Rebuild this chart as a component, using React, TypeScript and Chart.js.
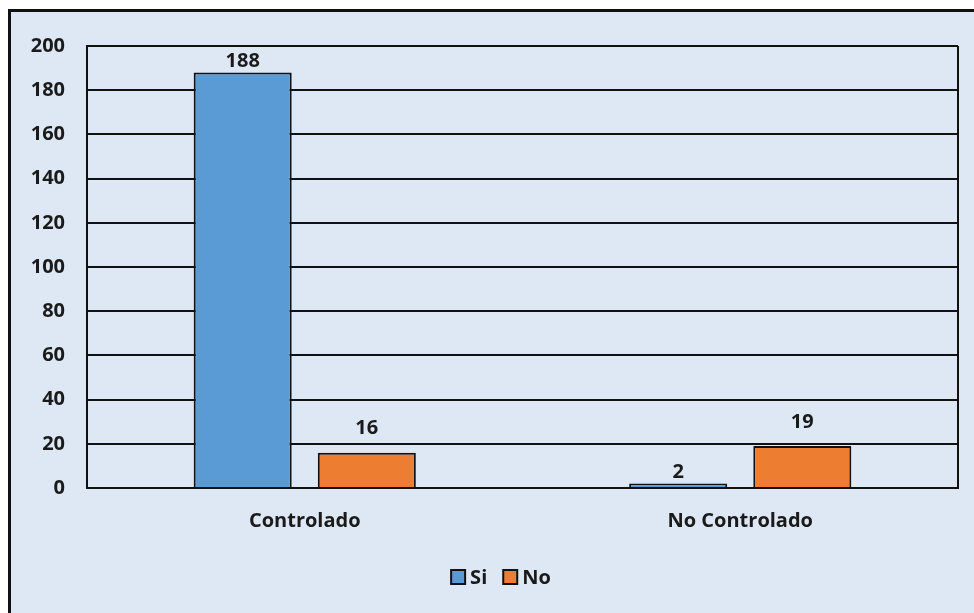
import React, { useEffect, useRef } from "react";
import { Chart, registerables } from "chart.js";

Chart.register(...registerables);

const categories = ["Controlado", "No Controlado"];
const seriesNames = ["Si", "No"];
const siValues = [188, 2];
const noValues = [16, 19];
const yTicks = [0, 20, 40, 60, 80, 100, 120, 140, 160, 180, 200];

const FONT = "'Open Sans', 'Noto Sans', sans-serif";
const SIZE = 20;
const TEXT = "#1a1a1a";
const LINE = "#111";

// Writes each bar's value just above it (the "No" labels sit a little higher)
const valueLabels = {
  id: "valueLabels",
  afterDatasetsDraw(chart: any) {
    const ctx = chart.ctx;
    ctx.save();
    ctx.font = `bold ${SIZE}px ${FONT}`;
    ctx.fillStyle = TEXT;
    ctx.textAlign = "center";
    ctx.textBaseline = "bottom";
    const lift = [1, 14];
    chart.data.datasets.forEach((ds: any, i: number) => {
      const meta = chart.getDatasetMeta(i);
      meta.data.forEach((bar: any, j: number) => {
        ctx.fillText(String(ds.data[j]), bar.x, bar.y - lift[i]);
      });
    });
    ctx.restore();
  },
};

// Closes the plot frame on the right-hand side
const rightEdge = {
  id: "rightEdge",
  beforeDatasetsDraw(chart: any) {
    const { ctx, chartArea } = chart;
    ctx.save();
    ctx.strokeStyle = LINE;
    ctx.lineWidth = 2;
    ctx.beginPath();
    ctx.moveTo(chartArea.right, chartArea.top);
    ctx.lineTo(chartArea.right, chartArea.bottom);
    ctx.stroke();
    ctx.restore();
  },
};

// Compact legend centred under the plot: boxed swatch, small gap, bold name
const bottomLegend = {
  id: "bottomLegend",
  afterDraw(chart: any) {
    const ctx = chart.ctx;
    ctx.save();
    ctx.font = `bold ${SIZE}px ${FONT}`;
    ctx.textBaseline = "middle";
    ctx.textAlign = "left";
    const box = 14;
    const gap = 5;
    const itemGap = 16;
    const items = chart.data.datasets.map((ds: any) => ({
      label: ds.label,
      color: ds.backgroundColor,
      w: box + gap + ctx.measureText(ds.label).width,
    }));
    const total = items.reduce((s: number, it: any) => s + it.w, 0) + itemGap * (items.length - 1);
    let x = chart.width / 2 - total / 2;
    const cy = chart.height - 36;
    items.forEach((it: any) => {
      ctx.fillStyle = it.color;
      ctx.fillRect(x, cy - box / 2, box, box);
      ctx.strokeStyle = LINE;
      ctx.lineWidth = 2;
      ctx.strokeRect(x, cy - box / 2, box, box);
      ctx.fillStyle = TEXT;
      ctx.fillText(it.label, x + box + gap, cy + 1);
      x += it.w + itemGap;
    });
    ctx.restore();
  },
};

export default function App() {
  const ref = useRef<HTMLCanvasElement>(null);

  useEffect(() => {
    if (!ref.current) return;
    const chart = new Chart(ref.current, {
      type: "bar",
      data: {
        labels: categories,
        datasets: [
          {
            label: seriesNames[0],
            data: siValues,
            backgroundColor: "#5B9BD5",
            borderColor: LINE,
            borderWidth: 2,
            borderSkipped: "bottom",
            categoryPercentage: 0.57,
            barPercentage: 0.79,
          },
          {
            label: seriesNames[1],
            data: noValues,
            backgroundColor: "#ED7D31",
            borderColor: LINE,
            borderWidth: 2,
            borderSkipped: "bottom",
            categoryPercentage: 0.57,
            barPercentage: 0.79,
          },
        ],
      },
      options: {
        animation: false,
        responsive: false,
        maintainAspectRatio: false,
        layout: { padding: { top: 30, right: 33, left: 0, bottom: 58 } },
        plugins: {
          tooltip: { enabled: false },
          legend: { display: false },
        },
        scales: {
          x: {
            grid: { display: false, drawTicks: false },
            border: { display: true, color: LINE, width: 2 },
            ticks: {
              padding: 21,
              color: TEXT,
              font: { family: FONT, size: SIZE, weight: "bold" },
            },
            afterFit(scale: any) {
              scale.height = 67;
            },
          },
          y: {
            min: 0,
            max: 200,
            afterBuildTicks(scale: any) {
              scale.ticks = yTicks.map((v) => ({ value: v }));
            },
            grid: { color: LINE, lineWidth: 2, drawTicks: false },
            border: { display: true, color: LINE, width: 2 },
            ticks: {
              padding: 22,
              color: TEXT,
              font: { family: FONT, size: SIZE, weight: "bold" },
            },
            afterFit(scale: any) {
              scale.width = 76;
            },
          },
        },
      },
      plugins: [valueLabels, rightEdge, bottomLegend],
    });
    return () => chart.destroy();
  }, []);

  return (
    <div
      style={{
        position: "fixed",
        left: 0,
        top: 0,
        width: 974,
        height: 613,
        overflow: "hidden",
        background: "#fff",
      }}
    >
      <div
        style={{
          position: "absolute",
          left: 8,
          top: 9,
          width: 1000,
          height: 640,
          border: "3px solid #111",
          background: "#DEE8F5",
        }}
      >
        <canvas ref={ref} width={980} height={601} style={{ display: "block" }} />
      </div>
    </div>
  );
}
